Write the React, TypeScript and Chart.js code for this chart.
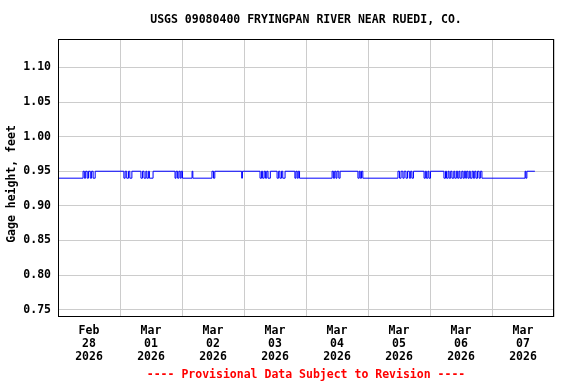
import React, { useEffect, useRef } from "react";
import { Chart, registerables } from "chart.js";

Chart.register(...registerables);

const titleText = "USGS 09080400 FRYINGPAN RIVER NEAR RUEDI, CO.";
const footerText = "---- Provisional Data Subject to Revision ----";
const yAxisTitle = "Gage height, feet";

// day labels, centred at noon of each day (hours since Feb 28 00:00)
const dayLabels: string[][] = [
  ["Feb", "28", "2026"],
  ["Mar", "01", "2026"],
  ["Mar", "02", "2026"],
  ["Mar", "03", "2026"],
  ["Mar", "04", "2026"],
  ["Mar", "05", "2026"],
  ["Mar", "06", "2026"],
  ["Mar", "07", "2026"],
];

const yTicks = [0.75, 0.8, 0.85, 0.9, 0.95, 1.0, 1.05, 1.1];

// step changes: hour since Feb 28 00:00 -> gage height (ft)
const stepHours = [
  0,
  9.7, 10.2, 10.7, 11.3, 11.8, 12.5, 13.0, 13.6, 14.4,
  25.5, 26.0, 26.6, 27.3, 27.8, 28.6,
  32.1, 32.7, 33.3, 34.0, 34.4, 35.0, 35.4, 36.8,
  45.3, 45.7, 46.3, 46.8, 47.3, 47.7, 48.2,
  51.9, 52.2,
  59.6, 60.2, 60.7,
  71.1, 71.4,
  78.2, 78.8, 79.2, 79.8, 80.3, 80.8, 81.3, 82.2,
  84.8, 85.4, 85.9, 86.5, 87.0, 87.9,
  91.7, 92.1, 92.6, 93.0, 93.5,
  106.1, 106.6, 107.1, 107.6, 108.0, 108.7, 109.2,
  116.1, 116.6, 117.0, 117.5, 118.0,
  131.6, 132.2, 132.8, 133.5, 134.0, 134.7, 135.3, 136.0, 136.5, 137.0, 137.6,
  141.7, 142.2, 142.6, 143.2, 143.6, 144.2,
  149.4, 150.0, 150.4, 151.0, 151.4, 152.0, 152.5, 153.2, 153.6, 154.2, 154.7, 155.2, 155.6, 156.3, 156.8, 157.3, 157.8, 158.2, 158.7, 159.2, 159.6, 160.3, 160.8, 161.3, 161.8, 162.4, 163.0, 163.5, 164.1,
  180.8, 181.1, 181.5,
  184.6,
];
const stepValues = [
  0.94,
  0.95, 0.94, 0.95, 0.94, 0.95, 0.94, 0.95, 0.94, 0.95,
  0.94, 0.95, 0.94, 0.95, 0.94, 0.95,
  0.94, 0.95, 0.94, 0.95, 0.94, 0.95, 0.94, 0.95,
  0.94, 0.95, 0.94, 0.95, 0.94, 0.95, 0.94,
  0.95, 0.94,
  0.95, 0.94, 0.95,
  0.94, 0.95,
  0.94, 0.95, 0.94, 0.95, 0.94, 0.95, 0.94, 0.95,
  0.94, 0.95, 0.94, 0.95, 0.94, 0.95,
  0.94, 0.95, 0.94, 0.95, 0.94,
  0.95, 0.94, 0.95, 0.94, 0.95, 0.94, 0.95,
  0.94, 0.95, 0.94, 0.95, 0.94,
  0.95, 0.94, 0.95, 0.94, 0.95, 0.94, 0.95, 0.94, 0.95, 0.94, 0.95,
  0.94, 0.95, 0.94, 0.95, 0.94, 0.95,
  0.94, 0.95, 0.94, 0.95, 0.94, 0.95, 0.94, 0.95, 0.94, 0.95, 0.94, 0.95, 0.94, 0.95, 0.94, 0.95, 0.94, 0.95, 0.94, 0.95, 0.94, 0.95, 0.94, 0.95, 0.94, 0.95, 0.94, 0.95, 0.94,
  0.95, 0.94, 0.95,
  0.95,
];

const FONT = "'DejaVu Sans Mono', monospace";
const FSIZE = 11.5;

export default function App() {
  const ref = useRef<HTMLCanvasElement | null>(null);

  useEffect(() => {
    document.body.style.margin = "0";
    const canvas = ref.current;
    if (!canvas) return;

    const textPlugin = {
      id: "usgsText",
      afterDraw(chart: any) {
        const { ctx, chartArea } = chart;
        ctx.save();
        // plot box
        ctx.strokeStyle = "#000";
        ctx.lineWidth = 1;
        ctx.strokeRect(
          Math.round(chartArea.left) + 0.5,
          Math.round(chartArea.top) + 0.5,
          Math.round(chartArea.right - chartArea.left) - 1,
          Math.round(chartArea.bottom - chartArea.top) - 1
        );
        const cx = (chartArea.left + chartArea.right) / 2;
        ctx.font = `bold ${FSIZE}px ${FONT}`;
        ctx.textAlign = "center";
        ctx.textBaseline = "middle";
        ctx.fillStyle = "#000";
        ctx.fillText(titleText, cx, 20);
        ctx.fillStyle = "#ff0000";
        ctx.fillText(footerText, cx, 375);
        ctx.fillStyle = "#000";
        ctx.translate(12, 184);
        ctx.rotate(-Math.PI / 2);
        ctx.fillText(yAxisTitle, 0, 0);
        ctx.restore();
      },
    };

    const data = stepHours.map((h, i) => ({ x: h, y: stepValues[i] }));
    const tickHours: number[] = [];
    for (let d = 0; d <= dayLabels.length; d++) {
      tickHours.push(d * 24);
      if (d < dayLabels.length) tickHours.push(d * 24 + 12);
    }

    const chart = new Chart(canvas, {
      type: "line",
      data: {
        datasets: [
          {
            data,
            borderColor: "#0000ff",
            borderWidth: 1,
            pointRadius: 0,
            stepped: "before",
            fill: false,
          },
        ],
      },
      options: {
        animation: false,
        responsive: false,
        events: [],
        layout: { padding: { top: 39, right: 22, left: 0, bottom: 0 } },
        plugins: {
          legend: { display: false },
          tooltip: { enabled: false },
        },
        scales: {
          x: {
            type: "linear",
            min: 0,
            max: dayLabels.length * 24,
            afterBuildTicks: (scale: any) => {
              scale.ticks = tickHours.map((v) => ({ value: v }));
            },
            afterFit: (scale: any) => {
              scale.height = 67;
            },
            grid: {
              drawTicks: false,
              color: (ctx: any) =>
                ctx.tick && ctx.tick.value % 24 === 0 ? "#cccccc" : "rgba(0,0,0,0)",
              lineWidth: 1,
            },
            border: { display: false },
            ticks: {
              autoSkip: false,
              maxRotation: 0,
              padding: 8,
              color: "#000",
              font: { family: FONT, size: FSIZE, weight: "bold", lineHeight: 1.1 },
              callback: (value: any) => {
                const v = Number(value);
                if (v % 24 !== 12) return "";
                const idx = Math.floor(v / 24);
                return dayLabels[idx] || "";
              },
            },
          },
          y: {
            type: "linear",
            min: 0.7395,
            max: 1.141,
            afterBuildTicks: (scale: any) => {
              scale.ticks = yTicks.map((v) => ({ value: v }));
            },
            afterFit: (scale: any) => {
              scale.width = 58;
            },
            grid: { drawTicks: false, color: "#cccccc", lineWidth: 1 },
            border: { display: false },
            ticks: {
              padding: 7,
              color: "#000",
              font: { family: FONT, size: FSIZE, weight: "bold" },
              callback: (value: any) => Number(value).toFixed(2),
            },
          },
        },
      },
      plugins: [textPlugin],
    } as any);

    return () => chart.destroy();
  }, []);

  return <canvas ref={ref} width={576} height={384} style={{ display: "block" }} />;
}
